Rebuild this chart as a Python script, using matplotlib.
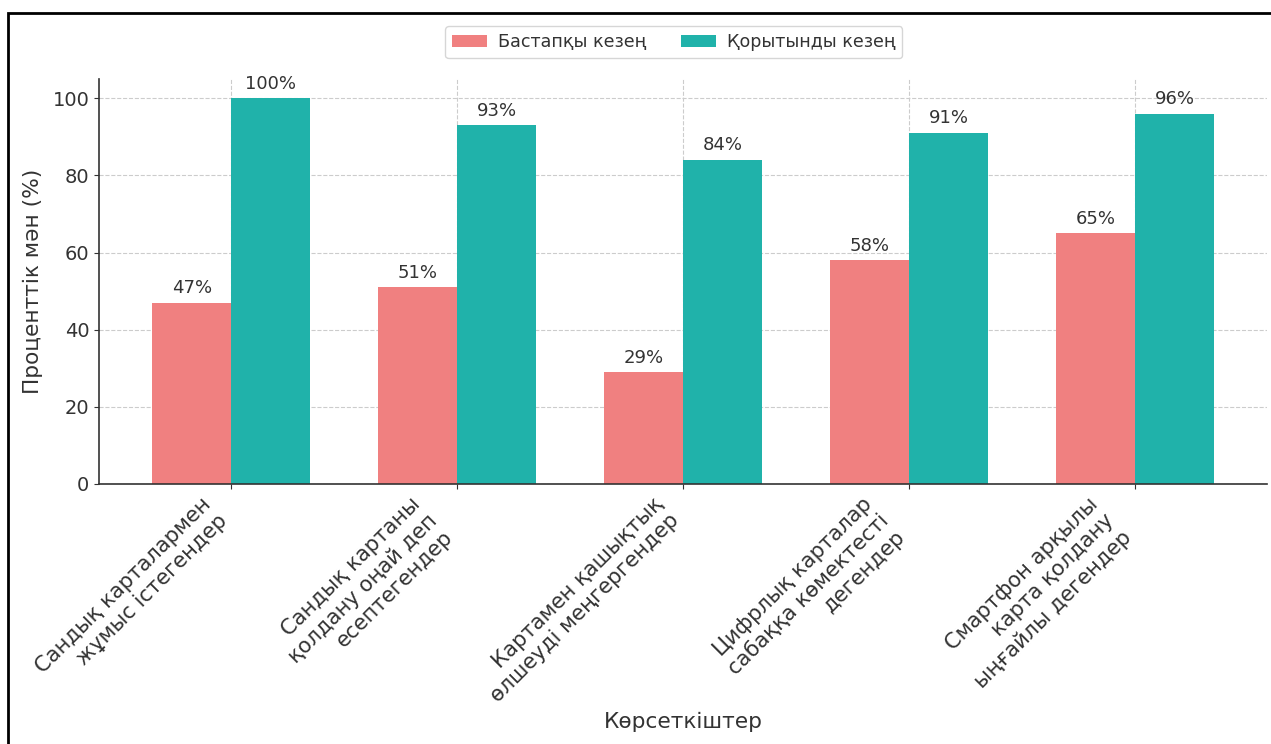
import numpy as np
import matplotlib
matplotlib.use('Agg')
import matplotlib.pyplot as plt
from matplotlib.patches import Rectangle

categories = [
    'Сандық карталармен\nжұмыс істегендер',
    'Сандық картаны\nқолдану оңай деп\nесептегендер',
    'Картамен қашықтық\nөлшеуді меңгергендер',
    'Цифрлық карталар\nсабаққа көмектесті\nдегендер',
    'Смартфон арқылы\nкарта қолдану\nыңғайлы дегендер',
]
initial = [47, 51, 29, 58, 65]
final = [100, 93, 84, 91, 96]
series_names = ['Бастапқы кезең', 'Қорытынды кезең']

text_color = '#333333'
plt.rcParams['font.family'] = 'DejaVu Sans'
plt.rcParams['text.color'] = text_color
plt.rcParams['axes.labelcolor'] = text_color
plt.rcParams['xtick.color'] = text_color
plt.rcParams['ytick.color'] = text_color

fig = plt.figure(figsize=(12.71, 7.44), dpi=100)
ax = fig.add_axes([0.078, 0.3495, 0.919, 0.5443])

x = np.arange(len(categories))
width = 0.35
bars1 = ax.bar(x - width / 2, initial, width, color='lightcoral', label=series_names[0])
bars2 = ax.bar(x + width / 2, final, width, color='lightseagreen', label=series_names[1])

for bars in (bars1, bars2):
    ax.bar_label(bars, labels=[f'{int(b.get_height())}%' for b in bars],
                 padding=4, fontsize=13, color=text_color)

ax.set_ylim(0, 105)
ax.set_xticks(x)
ax.set_xticklabels(categories, rotation=45, ha='right', fontsize=15.2)
ax.tick_params(axis='y', labelsize=14)
ax.set_ylabel('Проценттік мән (%)', fontsize=15.6, labelpad=7)
ax.set_xlabel('Көрсеткіштер', fontsize=15.6)

ax.set_axisbelow(True)
ax.grid(True, linestyle='--', color='#cccccc', linewidth=0.8)
for side in ('top', 'right'):
    ax.spines[side].set_visible(False)
for side in ('left', 'bottom'):
    ax.spines[side].set_color(text_color)
    ax.spines[side].set_linewidth(1.2)

fig.legend(loc='center', bbox_to_anchor=(0.530, 0.943), ncol=2, fontsize=12.6,
           frameon=True, edgecolor='#cccccc', handletextpad=0.6)

# screenshot frame
fig.patches.append(Rectangle((8 / 1271, -0.1), 1.2, 1 - 13 / 744 + 0.1,
                             transform=fig.transFigure, fill=False,
                             edgecolor='black', linewidth=2, zorder=10))

fig.savefig('out.png', dpi=100)
